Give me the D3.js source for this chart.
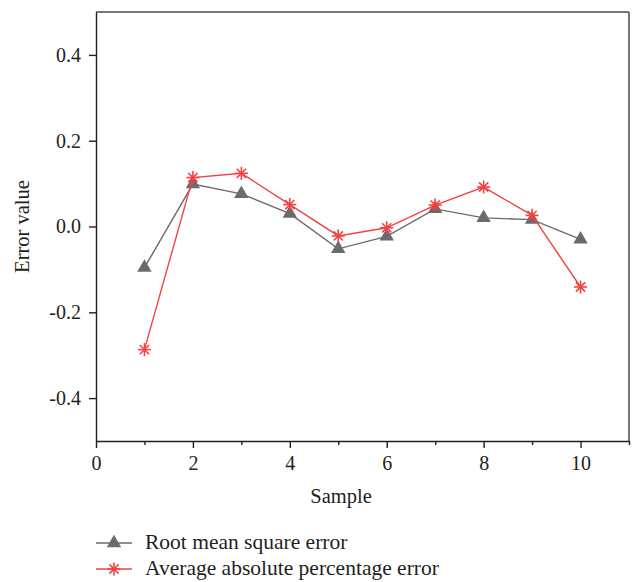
<!DOCTYPE html>
<html>
<head>
<meta charset="utf-8">
<script src="https://cdn.jsdelivr.net/npm/d3@7"></script>
<style>
  html, body { margin: 0; padding: 0; background: #fff; }
  text { font-family: "Liberation Serif", "DejaVu Serif", serif; fill: #231f20; }
</style>
</head>
<body>
<svg id="chart" width="636" height="582"></svg>
<script>
// Sample indices
const samples = [1, 2, 3, 4, 5, 6, 7, 8, 9, 10];
// Root mean square error per sample
const rmse = [-0.096, 0.099, 0.076, 0.030, -0.052, -0.023, 0.041, 0.020, 0.016, -0.030];
// Average absolute percentage error per sample
const mape = [-0.287, 0.114, 0.124, 0.051, -0.022, -0.003, 0.050, 0.092, 0.026, -0.141];
const xTicks = [0, 2, 4, 6, 8, 10];
const xMinorTicks = [1, 3, 5, 7, 9, 11];
const yTicks = [-0.4, -0.2, 0.0, 0.2, 0.4];
const seriesNames = ["Root mean square error", "Average absolute percentage error"];

const svg = d3.select("#chart");
const m = { left: 96, right: 629, top: 12, bottom: 441 };

const x = d3.scaleLinear().domain([0, 11]).range([m.left, m.right]);
const y = d3.scaleLinear().domain([-0.5, 0.5]).range([m.bottom, m.top]);

const gray = "#6b6b6e";
const red = "#f04343";
const axisColor = "#231f20";
const fontFamily = '"Liberation Serif", "DejaVu Serif", serif';

// Frame (top and right)
svg.append("line").attr("x1", m.left).attr("x2", m.right).attr("y1", m.top).attr("y2", m.top)
  .attr("stroke", "#4a4a4a").attr("stroke-width", 1.5);
svg.append("line").attr("x1", m.right).attr("x2", m.right).attr("y1", m.top).attr("y2", m.bottom)
  .attr("stroke", "#4a4a4a").attr("stroke-width", 1.5);

// X axis
svg.append("g").attr("transform", `translate(0,${m.bottom})`)
  .call(d3.axisBottom(x).tickValues(xTicks).tickFormat(d3.format("d"))
    .tickSize(7).tickSizeOuter(0).tickPadding(8));
svg.append("g").attr("transform", `translate(0,${m.bottom})`)
  .call(d3.axisBottom(x).tickValues(xMinorTicks).tickFormat("").tickSize(4).tickSizeOuter(0))
  .call(g => g.select(".domain").remove());

// Y axis
const yAxis = svg.append("g").attr("transform", `translate(${m.left},0)`)
  .call(d3.axisLeft(y).tickValues(yTicks).tickFormat(d3.format(".1f"))
    .tickSize(7).tickSizeOuter(0).tickPadding(8));

svg.selectAll(".domain, .tick line").attr("stroke", axisColor).attr("stroke-width", 1.4);
svg.selectAll(".tick text").style("font-size", "20px").attr("fill", axisColor)
  .style("font-family", fontFamily);
yAxis.selectAll(".tick text").text(d => d.toFixed(1).replace("-0.0", "0.0"));

// Axis titles
svg.append("text").attr("x", 341).attr("y", 503)
  .attr("text-anchor", "middle").style("font-size", "20.5px").text("Sample");
svg.append("text").attr("transform", `translate(29,${y(0)}) rotate(-90)`)
  .attr("text-anchor", "middle").style("font-size", "20.5px").text("Error value");

const line = d3.line().x((d, i) => x(samples[i])).y(d => y(d));

// Marker shapes
const tri = d3.symbol().type(d3.symbolTriangle).size(90);
function star(g, cx, cy, r, color) {
  for (let k = 0; k < 4; k++) {
    const a = k * Math.PI / 4;
    g.append("line")
      .attr("x1", cx - r * Math.sin(a)).attr("y1", cy - r * Math.cos(a))
      .attr("x2", cx + r * Math.sin(a)).attr("y2", cy + r * Math.cos(a))
      .attr("stroke", color).attr("stroke-width", 1.6);
  }
}

// RMSE series
svg.append("path").datum(rmse).attr("d", line)
  .attr("fill", "none").attr("stroke", gray).attr("stroke-width", 1.4);
svg.append("g").selectAll("path").data(rmse).join("path")
  .attr("d", tri)
  .attr("transform", (d, i) => `translate(${x(samples[i])},${y(d)})`)
  .attr("fill", gray);

// MAPE series
svg.append("path").datum(mape).attr("d", line)
  .attr("fill", "none").attr("stroke", red).attr("stroke-width", 1.4);
const stars = svg.append("g");
mape.forEach((d, i) => star(stars, x(samples[i]), y(d), 6.5, red));

// Legend
const leg = svg.append("g");
const rows = [{ name: seriesNames[0], color: gray, type: "tri", y: 543 },
              { name: seriesNames[1], color: red, type: "star", y: 569 }];
rows.forEach(r => {
  leg.append("line").attr("x1", 96).attr("x2", 132).attr("y1", r.y).attr("y2", r.y)
    .attr("stroke", r.color).attr("stroke-width", 1.4);
  if (r.type === "tri") {
    leg.append("path").attr("d", tri).attr("transform", `translate(114,${r.y})`).attr("fill", r.color);
  } else {
    star(leg, 114, r.y, 6.5, r.color);
  }
  leg.append("text").attr("x", 145).attr("y", r.y + 6).style("font-size", "21.5px").text(r.name);
});
</script>
</body>
</html>
